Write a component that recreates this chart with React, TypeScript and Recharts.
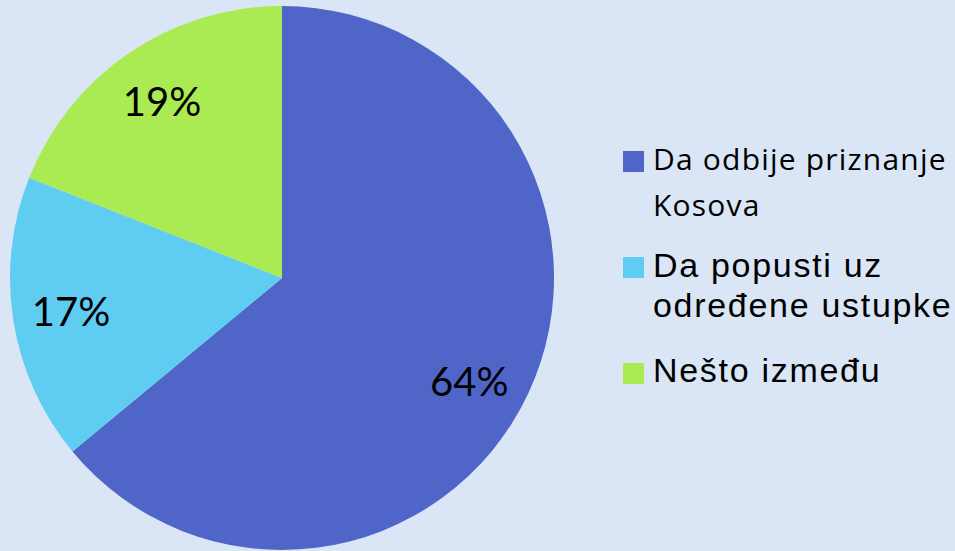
import React from 'react';
import { PieChart, Pie, Cell, Legend } from 'recharts';

const categories = ['Da odbije priznanje Kosova', 'Da popusti uz određene ustupke', 'Nešto između'];
const values = [64, 17, 19];
const colors = ['#4f66c8', '#5fcdf2', '#aaea52'];

const data = categories.map((name, i) => ({ name, value: values[i] }));

const RAD = Math.PI / 180;
const labelAngleShift = [-3.5, 0, 0];

const renderLabel = (props: any) => {
  const { cx, cy, midAngle, outerRadius, value, index } = props;
  const r = outerRadius * 0.785;
  const a = midAngle + (labelAngleShift[index] || 0);
  const x = cx + r * Math.cos(-a * RAD);
  const y = cy + r * Math.sin(-a * RAD);
  return (
    <text x={x} y={y} fill="#000" textAnchor="middle" dominantBaseline="central"
      style={{ fontFamily: 'Lato, sans-serif', fontSize: 40 }}>
      {value}%
    </text>
  );
};

const LegendContent = () => {
  const items = [
    { top: 6.4, lines: ['Da odbije priznanje', 'Kosova'], font: '"Open Sans", sans-serif', size: 30, lh: 46, ls: 1.2, sq: 21 },
    { top: 114.7, lines: ['Da popusti uz', 'određene ustupke'], font: '"Liberation Sans", Arial, sans-serif', size: 34, lh: 40.5, ls: 1.7, sq: 127 },
    { top: 219.7, lines: ['Nešto između'], font: '"Liberation Sans", Arial, sans-serif', size: 34, lh: 40.5, ls: 1.7, sq: 233 },
  ];
  return (
    <div style={{ position: 'relative', width: 345, height: 280 }}>
      {items.map((it, i) => (
        <React.Fragment key={i}>
          <div style={{ position: 'absolute', left: 13, top: it.sq, width: 21, height: 21, background: colors[i] }} />
          <div style={{
            position: 'absolute', left: 43, top: it.top, fontFamily: it.font,
            fontSize: it.size, lineHeight: `${it.lh}px`, letterSpacing: it.ls, color: '#000', whiteSpace: 'nowrap',
          }}>
            {it.lines.map((l, j) => <div key={j}>{l}</div>)}
          </div>
        </React.Fragment>
      ))}
    </div>
  );
};

export default function App() {
  return (
    <div style={{ position: 'absolute', left: 0, top: 0, width: 955, height: 551, background: '#dae6f5' }}>
      <PieChart width={955} height={551} margin={{ top: 0, right: 0, bottom: 0, left: 0 }}>
        <Pie
          data={data}
          dataKey="value"
          nameKey="name"
          cx={282}
          cy={278}
          outerRadius={272}
          startAngle={90}
          endAngle={-270}
          stroke="none"
          label={renderLabel}
          labelLine={false}
          isAnimationActive={false}
        >
          {data.map((d, i) => <Cell key={d.name} fill={colors[i]} />)}
        </Pie>
        <Legend
          content={<LegendContent />}
          wrapperStyle={{ position: 'absolute', left: 610, top: 130, width: 345, height: 280 }}
        />
      </PieChart>
    </div>
  );
}
